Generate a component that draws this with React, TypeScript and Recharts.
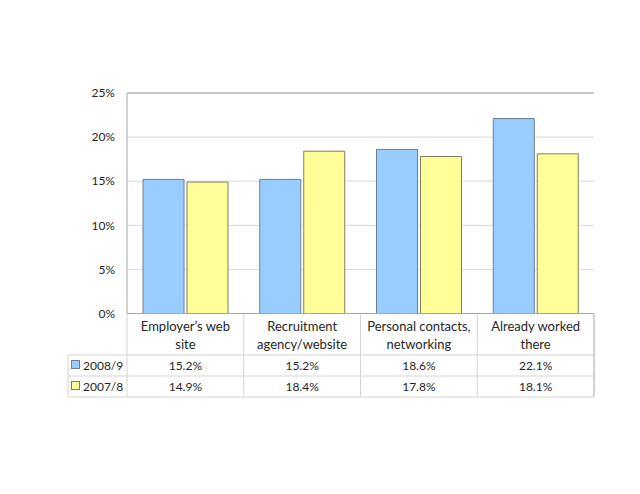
import { BarChart, Bar, XAxis, YAxis, CartesianGrid, ReferenceLine } from 'recharts';

const categories = [
  ['Employer\u2019s web', 'site'],
  ['Recruitment', 'agency/website'],
  ['Personal contacts,', 'networking'],
  ['Already worked', 'there'],
];
const series2008 = [15.2, 15.2, 18.6, 22.1];
const series2007 = [14.9, 18.4, 17.8, 18.1];
const seriesNames = ['2008/9', '2007/8'];
const yTicks = [0, 5, 10, 15, 20, 25];

const data = categories.map((c, i) => ({
  name: c.join(' '),
  s2008: series2008[i],
  s2007: series2007[i],
}));

const W = 640;
const H = 494;
const LEFT = 127;
const RIGHT = 594;
const TOP = 93;
const BOTTOM = 313.5;
const BAND = (RIGHT - LEFT) / categories.length;
const TABLE_LEFT = 68;
const ROW1 = 355;
const ROW2 = 376;
const ROW3 = 397;

const FONT = 'Lato, "Open Sans", sans-serif';
const TEXT = '#262626';
const LINE = '#d4d4d4';
const BLUE = '#99ccff';
const YELLOW = '#ffff99';

function TableTick(props: any) {
  const { x, index } = props;
  const cx = x;
  const right = cx + BAND / 2;
  const lbl = categories[index];
  const fmt = (v: number) => `${v.toFixed(1)}%`;
  return (
    <g style={{ fontFamily: FONT, fontSize: 13, fill: TEXT }}>
      {index === 0 && (
        <g>
          <line x1={LEFT} x2={LEFT} y1={BOTTOM} y2={ROW3} stroke={LINE} />
          <line x1={TABLE_LEFT} x2={TABLE_LEFT} y1={ROW1} y2={ROW3} stroke={LINE} />
          <line x1={TABLE_LEFT} x2={RIGHT} y1={ROW1} y2={ROW1} stroke={LINE} />
          <line x1={TABLE_LEFT} x2={RIGHT} y1={ROW2} y2={ROW2} stroke={LINE} />
          <line x1={TABLE_LEFT} x2={RIGHT} y1={ROW3} y2={ROW3} stroke={LINE} />
          <rect x={71.5} y={360.5} width={8} height={8} fill={BLUE} stroke="#6d7f91" />
          <rect x={71.5} y={381.5} width={8} height={8} fill={YELLOW} stroke="#7f7f5f" />
          <text x={83} y={370} fill={TEXT} fontSize={12}>{seriesNames[0]}</text>
          <text x={83} y={391} fill={TEXT} fontSize={12}>{seriesNames[1]}</text>
        </g>
      )}
      <line x1={right} x2={right} y1={BOTTOM} y2={ROW3} stroke={index === categories.length - 1 ? '#a6a6a6' : LINE} />
      <text x={cx} y={331} textAnchor="middle" fill={TEXT}>{lbl[0]}</text>
      <text x={cx} y={349} textAnchor="middle" fill={TEXT}>{lbl[1]}</text>
      <text x={cx} y={370} textAnchor="middle" fill={TEXT} fontSize={12}>{fmt(series2008[index])}</text>
      <text x={cx} y={391} textAnchor="middle" fill={TEXT} fontSize={12}>{fmt(series2007[index])}</text>
    </g>
  );
}

export default function App() {
  return (
    <div style={{ position: 'absolute', left: 0, top: 0, width: W, height: H, background: '#fff' }}>
      <BarChart
        width={W}
        height={H}
        data={data}
        margin={{ top: TOP, left: 0, right: W - RIGHT, bottom: 0 }}
        barCategoryGap={16}
        barGap={3}
      >
        <CartesianGrid vertical={false} stroke="#d9d9d9" />
        <XAxis
          dataKey="name"
          axisLine={{ stroke: '#a6a6a6' }}
          tickLine={false}
          interval={0}
          tick={<TableTick />}
          height={H - BOTTOM}
        />
        <YAxis
          width={LEFT}
          domain={[0, 25]}
          ticks={yTicks}
          tickFormatter={(v) => `${v}%`}
          axisLine={{ stroke: '#a6a6a6' }}
          tickLine={false}
          tickMargin={6}
          tick={{ fontFamily: FONT, fontSize: 12, fill: TEXT }}
        />
        <YAxis
          yAxisId="r"
          orientation="right"
          width={0}
          domain={[0, 25]}
          tick={false}
          tickLine={false}
          axisLine={{ stroke: '#a6a6a6' }}
        />
        <ReferenceLine y={25} stroke="#a6a6a6" />
        <Bar dataKey="s2008" fill={BLUE} stroke="#6d7f91" isAnimationActive={false} />
        <Bar dataKey="s2007" fill={YELLOW} stroke="#7f7f5f" isAnimationActive={false} />
      </BarChart>
    </div>
  );
}
